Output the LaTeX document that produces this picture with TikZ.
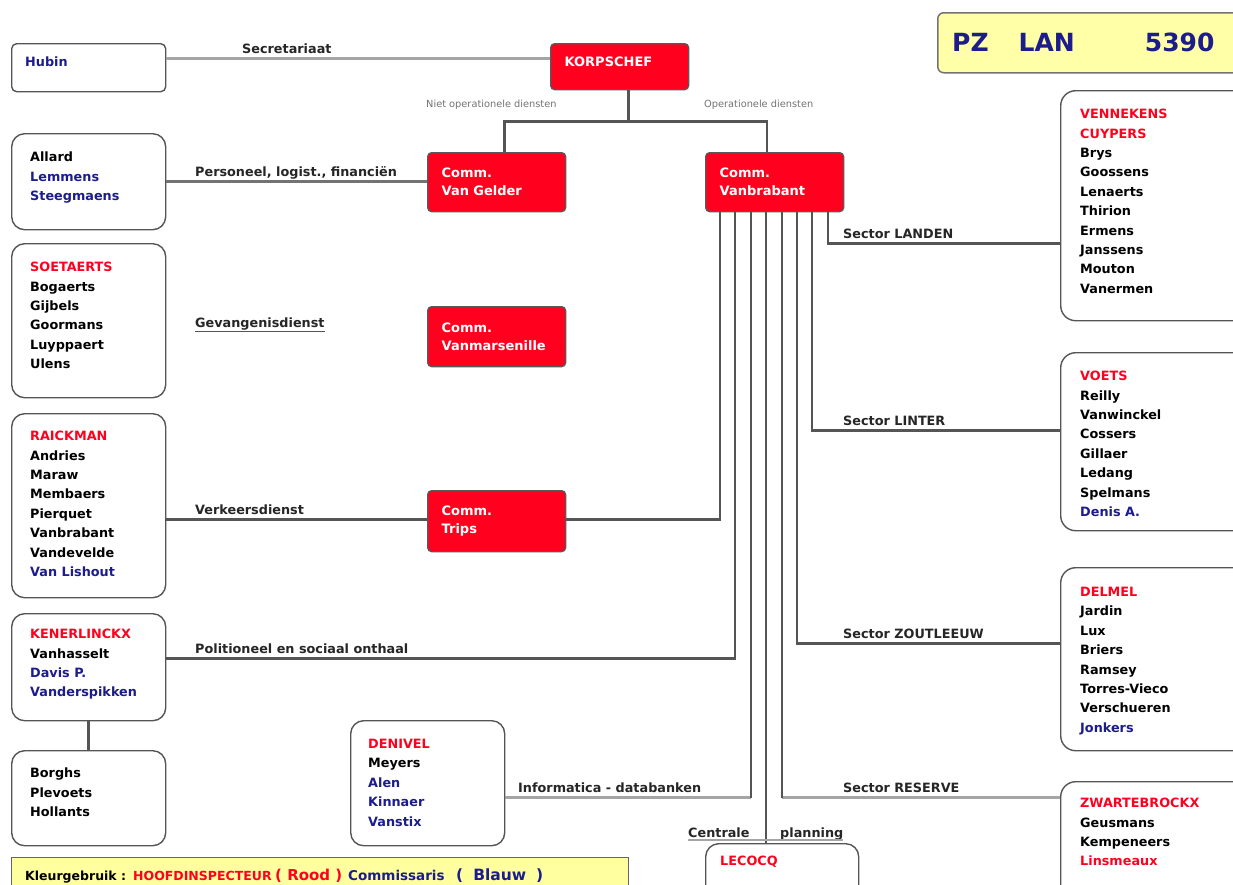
\documentclass[tikz,border=0pt]{standalone}
\usepackage{fontspec}
\setmainfont{DejaVu Sans}
\usetikzlibrary{calc}
\definecolor{pzred}{RGB}{255,0,30}
\definecolor{pznavy}{RGB}{28,28,140}
\definecolor{pzline}{RGB}{85,85,85}
\definecolor{pzlight}{RGB}{165,165,165}
\definecolor{pzyellow}{RGB}{255,255,168}
\definecolor{pzborder}{RGB}{85,85,85}
\tikzset{
  conn/.style={draw=pzline, line width=2.6pt},
  connlight/.style={draw=pzlight, line width=2.8pt},
  wbox/.style={draw=pzborder, line width=1.4pt, fill=white, rounded corners=13pt, inner sep=0pt, anchor=north west},
  rbox/.style={draw=black!65, line width=1.3pt, fill=pzred, rounded corners=4pt, anchor=north west,
    text=white, font=\bfseries\fontsize{13}{18}\selectfont, align=left, inner xsep=14pt, inner ysep=0pt,
    text width=110pt, minimum width=138pt},
  names/.style={anchor=north west, align=left, inner sep=0pt, font=\bfseries\fontsize{12.8}{19.4}\selectfont},
  lbl/.style={anchor=base west, inner sep=0pt, font=\bfseries\fontsize{12.8}{14}\selectfont, text=black!85},
  smalllbl/.style={anchor=west, inner sep=0pt, font=\fontsize{9.8}{10}\selectfont, text=black!55},
  legpart/.style={anchor=base west, inner sep=0pt},
}
\begin{document}
\begin{tikzpicture}[x=1pt,y=-1pt]
\useasboundingbox (0,0) rectangle (1233,884);
\clip (0,0) rectangle (1233,884);
\fill[white] (0,0) rectangle (1233,884);

% title
\node[draw=black!55, line width=1.5pt, fill=pzyellow, rounded corners=6pt, minimum width=320pt, minimum height=60pt, anchor=north west] (titlebox) at (937,12) {};
\node[anchor=west, inner sep=0pt, font=\bfseries\fontsize{25}{25}\selectfont, text=pznavy] (title) at (952,42) {PZ\hspace{30pt}LAN\hspace{70pt}5390};

% red boxes
\node[rbox, minimum height=46pt] (korps) at (550,43) {\raisebox{0pt}[0pt][0pt]{KORPSCHEF}};
\node[rbox, minimum height=59pt] (vg) at (427,152) {Comm.\\Van Gelder};
\node[rbox, minimum height=59pt, minimum width=137pt] (vb) at (705,152) {Comm.\\Vanbrabant};
\node[rbox, minimum height=60pt] (vm) at (427,306) {Comm.\\Vanmarsenille};
\node[rbox, minimum height=61pt] (trips) at (427,490) {Comm.\\Trips};

% white boxes left
\node[wbox, rounded corners=5pt, minimum width=154pt, minimum height=48pt] (hubin) at (11,43) {};
\node[names, text=pznavy] (hubint) at (25,57) {Hubin};
\node[wbox, minimum width=154pt, minimum height=96pt] (b2) at (11,133) {};
\node[names] (b2t) at (30,152) {Allard\\\textcolor{pznavy}{Lemmens}\\\textcolor{pznavy}{Steegmaens}};
\node[wbox, minimum width=154pt, minimum height=154pt] (b3) at (11,243) {};
\node[names] (b3t) at (30,262) {\textcolor{pzred}{SOETAERTS}\\Bogaerts\\Gijbels\\Goormans\\Luyppaert\\Ulens};
\node[wbox, minimum width=154pt, minimum height=184pt] (b4) at (11,413) {};
\node[names] (b4t) at (30,431) {\textcolor{pzred}{RAICKMAN}\\Andries\\Maraw\\Membaers\\Pierquet\\Vanbrabant\\Vandevelde\\\textcolor{pznavy}{Van Lishout}};
\node[wbox, minimum width=154pt, minimum height=107pt] (b5) at (11,613) {};
\node[names] (b5t) at (30,629) {\textcolor{pzred}{KENERLINCKX}\\Vanhasselt\\\textcolor{pznavy}{Davis P.}\\\textcolor{pznavy}{Vanderspikken}};
\node[wbox, minimum width=154pt, minimum height=95pt] (b6) at (11,750) {};
\node[names] (b6t) at (30,768) {Borghs\\Plevoets\\Hollants};
\node[wbox, minimum width=154pt, minimum height=125pt] (den) at (350,720) {};
\node[names] (dent) at (368,739) {\textcolor{pzred}{DENIVEL}\\Meyers\\\textcolor{pznavy}{Alen}\\\textcolor{pznavy}{Kinnaer}\\\textcolor{pznavy}{Vanstix}};
\node[wbox, minimum width=153pt, minimum height=60pt] (lecocq) at (705,843) {};
\node[names] (lecocqt) at (720,856) {\textcolor{pzred}{LECOCQ}};

% white boxes right
\node[wbox, rounded corners=15pt, minimum width=190pt, minimum height=230pt] (ven) at (1060,90) {};
\node[names] (vent) at (1080,109) {\textcolor{pzred}{VENNEKENS}\\\textcolor{pzred}{CUYPERS}\\Brys\\Goossens\\Lenaerts\\Thirion\\Ermens\\Janssens\\Mouton\\Vanermen};
\node[wbox, rounded corners=15pt, minimum width=190pt, minimum height=178pt] (voets) at (1060,352) {};
\node[names] (voetst) at (1080,371) {\textcolor{pzred}{VOETS}\\Reilly\\Vanwinckel\\Cossers\\Gillaer\\Ledang\\Spelmans\\\textcolor{pznavy}{Denis A.}};
\node[wbox, rounded corners=15pt, minimum width=190pt, minimum height=183pt] (delmel) at (1060,567) {};
\node[names] (delmelt) at (1080,587) {\textcolor{pzred}{DELMEL}\\Jardin\\Lux\\Briers\\Ramsey\\Torres-Vieco\\Verschueren\\\textcolor{pznavy}{Jonkers}};
\node[wbox, rounded corners=15pt, minimum width=190pt, minimum height=120pt] (zw) at (1060,781) {};
\node[names] (zwt) at (1080,798) {\textcolor{pzred}{ZWARTEBROCKX}\\Geusmans\\Kempeneers\\\textcolor{pzred}{Linsmeaux}};

% legend
\node[draw=black!60, line width=1.4pt, fill={rgb,255:red,255;green,255;blue,160}, minimum width=617pt, minimum height=45pt, anchor=north west] (legbox) at (11,857) {};
\node[legpart, font=\bfseries\fontsize{12.5}{13}\selectfont] (legk) at (25,880) {Kleurgebruik :};
\node[legpart, font=\bfseries\fontsize{12.5}{13}\selectfont, text=pzred] (legh) at (133,880) {HOOFDINSPECTEUR};
\node[legpart, font=\bfseries\fontsize{15}{16}\selectfont, text=pzred] (legr) at (275,880) {( Rood )};
\node[legpart, font=\bfseries\fontsize{13.5}{14}\selectfont, text=pznavy] (legc) at (348,880) {Commissaris};
\node[legpart, font=\bfseries\fontsize{15.5}{16}\selectfont, text=pznavy] (legb) at (456,880) {(\hspace{10pt}Blauw\hspace{10pt})};

% connector anchor points under Vanbrabant
\foreach \i/\dx in {1/15,2/30,3/46,4/61,5/77,6/92,7/107,8/123}
  \coordinate (v\i) at ([xshift=\dx pt]vb.south west);

% connectors
\draw[connlight] ([yshift=9pt]hubin.east) coordinate (s1) -- (s1 -| korps.west);
\draw[conn] ([xshift=9pt]korps.south) -- ++(0,31) coordinate (k2);
\draw[conn] ([xshift=8pt]vg.north) |- (k2) -| ([xshift=-7.5pt]vb.north);
\draw[conn, draw=black!55] (b2.east) -- (b2.east -| vg.west);
\draw[conn] ([yshift=-14pt]b4.east) coordinate (t1) -- (t1 -| trips.west);
\draw[conn] (trips.east |- t1) -| (v1);
\draw[conn] ([yshift=8.5pt]b5.east) coordinate (p1) -| (v2);
\coordinate (i1) at ([yshift=-14.5pt]den.east);
\draw[connlight] (i1) -- (i1 -| v3);
\draw[conn] (v3) -- (i1 -| v3);
\draw[conn] (v4) -- (v4 |- lecocq.north);
\draw[connlight] (v5 |- i1) -- (zw.west |- i1);
\draw[conn] (v5) -- (v5 |- i1);
\draw[conn] (v6) |- ([yshift=15.5pt]delmel.west);
\draw[conn] (v7) |- ([yshift=11pt]voets.west);
\draw[conn] (v8) |- ([yshift=-38pt]ven.west);
\draw[conn] (b5.south) -- (b6.north);

% labels
\node[lbl] (lsec) at (242,53) {Secretariaat};
\node[smalllbl] (lniet) at (426,105) {Niet operationele diensten};
\node[smalllbl] (lop) at (704,105) {Operationele diensten};
\node[lbl] (lper) at (195,176) {Personeel, logist., financiën};
\node[lbl] (lgev) at (195,327) {Gevangenisdienst};
\draw[draw=pzline, line width=1.6pt] ([yshift=-4.5pt]lgev.base west) -- ([yshift=-4.5pt]lgev.base east);
\node[lbl] (lver) at (195,514) {Verkeersdienst};
\node[lbl] (lpol) at (195,653) {Politioneel en sociaal onthaal};
\node[lbl] (linf) at (518,792) {Informatica - databanken};
\node[lbl] (llan) at (843,238) {Sector LANDEN};
\node[lbl] (llin) at (843,425) {Sector LINTER};
\node[lbl] (lzou) at (843,638) {Sector ZOUTLEEUW};
\node[lbl] (lres) at (843,792) {Sector RESERVE};
\node[lbl] (lcen) at (688,837) {Centrale};
\node[lbl] (lpla) at (780,837) {planning};
\draw[draw=pzlight, line width=2.5pt] ([yshift=-3pt]lcen.base west) -- ([yshift=-3pt]lpla.base east);
\end{tikzpicture}
\end{document}
